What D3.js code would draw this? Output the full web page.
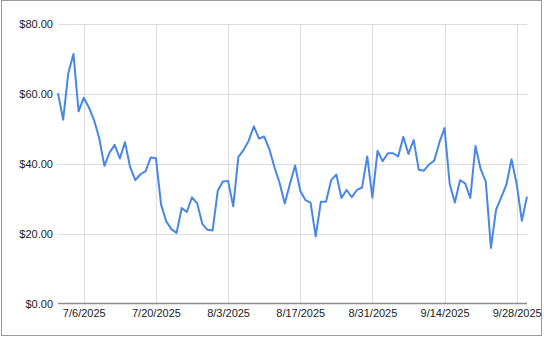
<!DOCTYPE html>
<html>
<head>
<meta charset="utf-8">
<script src="https://cdn.jsdelivr.net/npm/d3@7"></script>
<style>
  body { margin: 0; background: #fff; }
  svg { display: block; font-family: "Liberation Sans", Arial, sans-serif; }
</style>
</head>
<body>
<div id="price-chart"></div>
<script>
const w = 544
const h = 337

// Daily series, first and last day
const firstDay = "7/1/2025"
const lastDay = "9/30/2025"

// Daily price, one value per day from 7/1 to 9/30
const prices = [
  60.2, 52.6, 66.0, 71.4, 55.0, 58.9, 56.1, 52.5, 47.3, 39.4,
  43.2, 45.4, 41.5, 46.2, 39.0, 35.3, 37.0, 37.9, 41.8, 41.6,
  28.3, 23.5, 21.3, 20.2, 27.3, 26.2, 30.4, 28.7, 22.8, 21.1,
  20.9, 32.3, 34.9, 35.1, 27.8, 42.0, 43.9, 46.6, 50.7, 47.2,
  47.8, 44.2, 39.0, 34.5, 28.6, 34.2, 39.5, 32.3, 29.6, 28.9,
  19.2, 29.1, 29.1, 35.3, 36.9, 30.2, 32.5, 30.4, 32.5, 33.2,
  42.1, 30.3, 43.7, 40.7, 43.0, 43.0, 42.1, 47.7, 42.8, 46.8,
  38.3, 38.0, 39.8, 40.9, 46.1, 50.2, 34.2, 28.9, 35.3, 34.4,
  30.2, 45.1, 38.5, 34.9, 15.9, 26.9, 30.4, 34.0, 41.3, 34.2,
  23.7, 30.6
]

// Axis ticks
const xTickLabels = [ "7/6/2025", "7/20/2025", "8/3/2025", "8/17/2025", "8/31/2025", "9/14/2025", "9/28/2025" ]
const yTickValues = [ 0, 20, 40, 60, 80 ]

const parseDate = d3.timeParse("%m/%d/%Y")
const startDate = parseDate(firstDay)
const endDate = parseDate(lastDay)
const days = d3.timeDay.range(startDate, d3.timeDay.offset(endDate, 1))
const data = prices.map((p, i) => ({ date: days[i], price: p }))

const svg = d3.select("#price-chart")
              .append("svg")
                .attr("width", w)
                .attr("height", h)

// outer frame
svg.append("rect")
    .attr("x", 1.5)
    .attr("y", 0.5)
    .attr("width", 540)
    .attr("height", 335)
    .attr("fill", "#fff")
    .attr("stroke", "#9a9a9a")

// --- Scales ---
const xScale = d3.scaleTime()
                  .domain([startDate, endDate])
                  .range([58, 527])

const yScale = d3.scaleLinear()
                  .domain([0, 80])
                  .range([303.5, 24])

// --- Grid lines ---
svg.append("g")
    .selectAll("line")
    .data(yTickValues.slice(1))
    .join("line")
      .attr("x1", 58)
      .attr("x2", 527)
      .attr("y1", d => Math.round(yScale(d)) + 0.5)
      .attr("y2", d => Math.round(yScale(d)) + 0.5)
      .attr("stroke", "#dcdcdc")

svg.append("g")
    .selectAll("line")
    .data(xTickLabels.map(parseDate))
    .join("line")
      .attr("x1", d => Math.round(xScale(d)) + 0.5)
      .attr("x2", d => Math.round(xScale(d)) + 0.5)
      .attr("y1", yScale(80))
      .attr("y2", yScale(0))
      .attr("stroke", "#dcdcdc")

// --- Axes ---
// y-axis labels, no line
const yAxis = svg.append("g")
                  .attr("transform", "translate(53, 0)")
                  .call(d3.axisLeft(yScale)
                          .tickValues(yTickValues)
                          .tickSize(0)
                          .tickPadding(0)
                          .tickFormat(d => "$" + d3.format(".2f")(d)))
yAxis.select(".domain").remove()
yAxis.selectAll("text")
      .attr("font-size", 11)
      .attr("fill", "#222")

// x-axis labels
const xAxis = svg.append("g")
                  .attr("transform", "translate(0, 304)")
                  .call(d3.axisBottom(xScale)
                          .tickValues(xTickLabels.map(parseDate))
                          .tickSize(0)
                          .tickPadding(5)
                          .tickFormat(d3.timeFormat("%-m/%-d/%Y")))
xAxis.select(".domain").remove()
xAxis.selectAll("text")
      .attr("font-size", 11)
      .attr("fill", "#222")

// baseline
svg.append("line")
    .attr("x1", 58)
    .attr("x2", 527)
    .attr("y1", yScale(0))
    .attr("y2", yScale(0))
    .attr("stroke", "#8c8c8c")
    .attr("stroke-width", 1.5)

// --- Draw line graph ---
const line = d3.line()
                .x(d => xScale(d.date))
                .y(d => yScale(d.price))

svg.append("path")
    .datum(data)
    .attr("fill", "none")
    .attr("stroke", "#4a86e8")
    .attr("stroke-width", 2)
    .attr("stroke-linejoin", "round")
    .attr("d", line)
</script>
</body>
</html>
